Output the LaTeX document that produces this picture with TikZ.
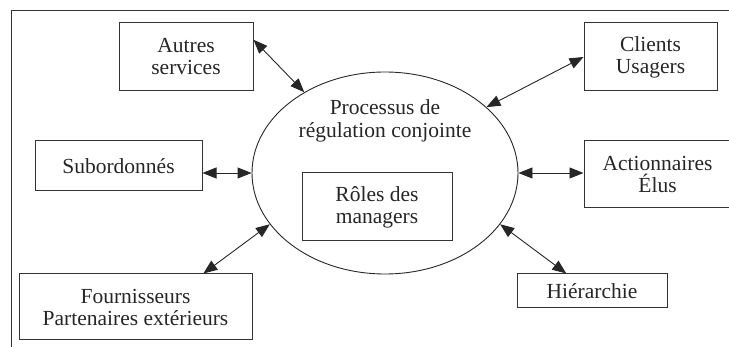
\documentclass[tikz,border=0pt]{standalone}
\usepackage{fontspec}
\setmainfont{Liberation Serif}
\newfontfamily\tnr{Liberation Serif}
\usetikzlibrary{arrows.meta,shapes.geometric,calc}
\begin{document}
\begin{tikzpicture}[x=1pt,y=-1pt,
  boxnode/.style={draw=black!80,line width=1pt,rectangle,inner sep=0pt,align=center,
    font=\tnr\fontsize{21.5}{22}\selectfont,text=black!85},
  link/.style={line width=0.9pt,draw=black!85,{Triangle[length=14pt,width=11pt]}-{Triangle[length=14pt,width=11pt]}}]
\useasboundingbox (0,0) rectangle (729,347);
\clip (0,0) rectangle (729,347);
\draw[line width=1pt,black!80] (11,11) rectangle (760,380);
\node[ellipse,draw=black!85,line width=0.9pt,minimum width=266pt,minimum height=202pt,inner sep=0pt] (ell) at (385,173) {};
\node[align=center,font=\tnr\fontsize{21.5}{23}\selectfont,text=black!85] (proc) at (385,121) {Processus de\\régulation conjointe};
\node[boxnode,minimum width=134pt,minimum height=68pt] (autres) at (186,57) {Autres\\services};
\node[boxnode,minimum width=167pt,minimum height=50pt] (subord) at (118.5,166) {Subordonnés};
\node[boxnode,minimum width=133pt,minimum height=68pt] (clients) at (650.5,57) {Clients\\Usagers};
\node[boxnode,minimum width=147pt,minimum height=67pt] (action) at (657.5,174.5) {Actionnaires\\Élus};
\node[boxnode,minimum width=150pt,minimum height=68pt] (roles) at (377,207) {Rôles des\\managers};
\node[boxnode,minimum width=233pt,minimum height=66pt] (fourn) at (135.5,307) {Fournisseurs\\Partenaires extérieurs};
\node[boxnode,minimum width=150pt,minimum height=34pt] (hier) at (592,291) {Hiérarchie};
\draw[link] ($(autres.north east)!0.25!(autres.south east)$) -- (ell.135);
\draw[link] (clients.west) -- (ell.33);
\draw[link] (subord.east |- ell.west) -- (ell.west);
\draw[link] (ell.east) -- (ell.east -| action.west);
\draw[link] ($(fourn.north west)!0.79!(fourn.north east)$) -- (ell.204);
\draw[link] ($(hier.north west)!0.33!(hier.north east)$) -- (ell.336);
\end{tikzpicture}
\end{document}
